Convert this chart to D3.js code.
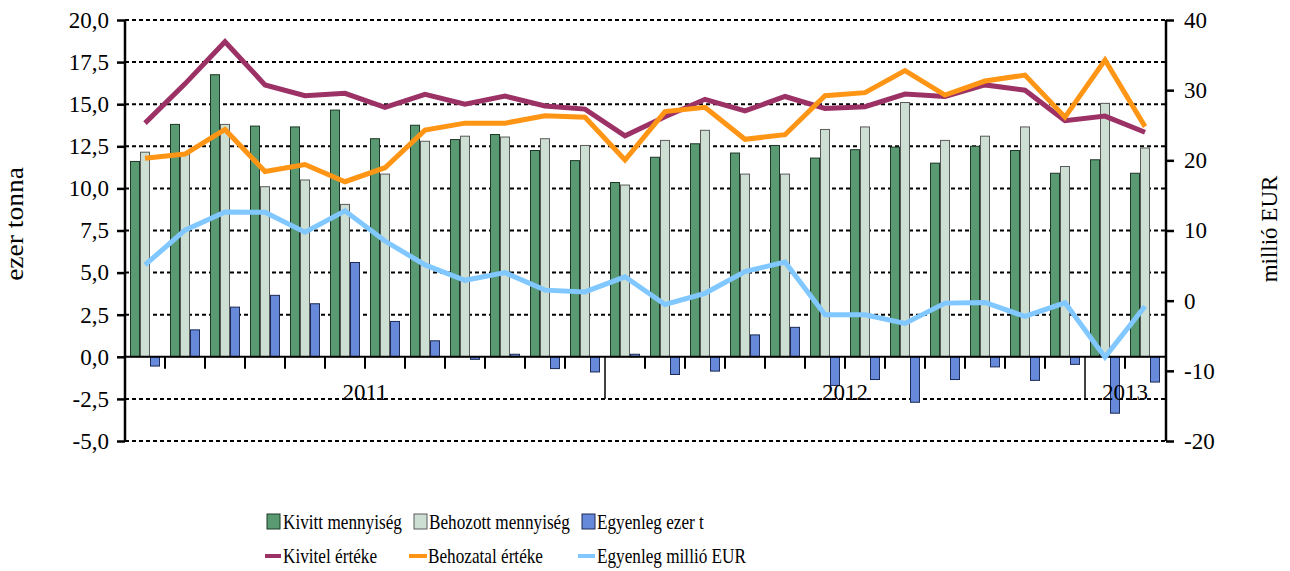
<!DOCTYPE html>
<html><head><meta charset="utf-8">
<script src="https://cdn.jsdelivr.net/npm/d3@7"></script>
<style>
html,body{margin:0;padding:0;background:#fff;}
svg text{font-family:"Liberation Serif","Times New Roman",serif !important;fill:#000;}
</style></head>
<body><svg id="c" width="1290" height="571"></svg>
<script>
const categories = ["2011.01","2011.02","2011.03","2011.04","2011.05","2011.06","2011.07","2011.08","2011.09","2011.10","2011.11","2011.12",
  "2012.01","2012.02","2012.03","2012.04","2012.05","2012.06","2012.07","2012.08","2012.09","2012.10","2012.11","2012.12",
  "2013.01","2013.02"];
const years = ["2011","2012","2013"];
const yearMonths = [12,12,2];
const kivittMennyiseg = [11.6,13.8,16.75,13.7,13.65,14.65,12.95,13.75,12.9,13.2,12.25,11.65,10.35,11.85,12.65,12.1,12.55,11.8,12.3,12.45,11.5,12.5,12.25,10.9,11.7,10.9];
const behozottMennyiseg = [12.15,12.1,13.8,10.1,10.5,9.05,10.85,12.8,13.1,13.05,12.95,12.55,10.2,12.85,13.45,10.85,10.85,13.5,13.65,15.1,12.85,13.1,13.65,11.3,15.05,12.4];
const egyenlegEzerT = [-0.55,1.6,2.95,3.65,3.15,5.6,2.1,0.95,-0.15,0.15,-0.7,-0.9,0.15,-1.05,-0.85,1.3,1.75,-1.7,-1.35,-2.7,-1.35,-0.6,-1.4,-0.45,-3.35,-1.5];
const kivitelErteke = [25.3,30.9,36.9,30.75,29.2,29.55,27.55,29.4,28.0,29.15,27.75,27.3,23.5,26.2,28.7,27.05,29.1,27.4,27.65,29.45,29.1,30.75,30.0,25.65,26.3,24.0];
const behozatalErteke = [20.3,20.9,24.4,18.4,19.4,16.95,18.95,24.3,25.3,25.3,26.35,26.15,20.05,26.95,27.55,23.0,23.65,29.2,29.65,32.8,29.3,31.3,32.15,26.15,34.3,24.8];
const egyenlegMillioEur = [5.1,10.05,12.65,12.6,9.75,12.8,8.5,5.1,2.9,4.0,1.5,1.25,3.4,-0.55,1.05,4.15,5.5,-2.0,-2.0,-3.25,-0.35,-0.25,-2.25,-0.3,-8.05,-0.8];
const leftTickValues = [-5,-2.5,0,2.5,5,7.5,10,12.5,15,17.5,20];
const leftTickLabels = ["-5,0","-2,5","0,0","2,5","5,0","7,5","10,0","12,5","15,0","17,5","20,0"];
const rightTickValues = [-20,-10,0,10,20,30,40];
const rightTickLabels = ["-20","-10","0","10","20","30","40"];
const barSeriesNames = ["Kivitt mennyiség","Behozott mennyiség","Egyenleg ezer t"];
const lineSeriesNames = ["Kivitel értéke","Behozatal értéke","Egyenleg millió EUR"];
const leftTitle = "ezer tonna";
const rightTitle = "millió EUR";

const barColors = ["#5a9a73","#cddfd2","#6689d9"];
const barStrokes = ["#1d3826","#5a5a5a","#1c2a55"];
const lineColors = ["#9b3165","#ff9515","#80c8ff"];
const FONT = '"Liberation Serif","Times New Roman",serif';

const svg = d3.select("#c");
const X0 = 125, X1 = 1165, YT = 20, YB = 441;
const x = d3.scaleBand().domain(categories).range([X0, X1]).padding(0);
const xi = d3.scaleBand().domain([0,1,2]).range([5, 35]).padding(0);
const yL = d3.scaleLinear().domain([-5,20]).range([YB, YT]);
const yR = d3.scaleLinear().domain([-20,40]).range([YB, YT]);

// gridlines
svg.append("g").selectAll("line").data(leftTickValues.filter(v=>v!==0)).join("line")
  .attr("x1", X0).attr("x2", X1).attr("y1", d=>yL(d)).attr("y2", d=>yL(d))
  .attr("stroke","#000").attr("stroke-width",2).attr("stroke-dasharray","4,3");

// bars
const barData = [kivittMennyiseg, behozottMennyiseg, egyenlegEzerT];
barData.forEach((arr, s) => {
  svg.append("g").selectAll("rect").data(arr).join("rect")
    .attr("x", (d,i)=> x(categories[i]) + xi(s) + 0.5)
    .attr("width", xi.bandwidth() - 1)
    .attr("y", d => Math.min(yL(d), yL(0)))
    .attr("height", d => Math.abs(yL(d) - yL(0)))
    .attr("fill", barColors[s]).attr("stroke", barStrokes[s]).attr("stroke-width",1);
});

// x axis at zero
const yZ = yL(0);
svg.append("line").attr("x1",X0).attr("x2",X1).attr("y1",yZ).attr("y2",yZ).attr("stroke","#000").attr("stroke-width",2);
const yearStarts = [];
let acc = 0; yearMonths.forEach(m => { yearStarts.push(acc); acc += m; });
svg.append("g").selectAll("line").data(categories.slice(1)).join("line")
  .attr("x1", d=>x(d)).attr("x2", d=>x(d))
  .attr("y1", yZ).attr("y2", (d,i)=> yearStarts.includes(i+1) ? yL(-2.5) : yZ+12)
  .attr("stroke","#000").attr("stroke-width", (d,i)=> yearStarts.includes(i+1) ? 1.5 : 2);

function label(x0, y0, s, size, sx, anchor, rot) {
  return svg.append("text")
    .attr("transform", `translate(${x0},${y0})` + (rot ? ` rotate(${rot})` : "") + ` scale(${sx},1)`)
    .attr("text-anchor", anchor || "start")
    .style("font-family", FONT).style("font-size", size + "px")
    .text(s);
}

years.forEach((yr, k) => {
  const a = x(categories[yearStarts[k]]);
  const b = x(categories[yearStarts[k] + yearMonths[k] - 1]) + x.bandwidth();
  label((a+b)/2, 400, yr, 23, 1, "middle");
});

// lines
const lineData = [kivitelErteke, behozatalErteke, egyenlegMillioEur];
const lineGen = d3.line().x((d,i)=> x(categories[i]) + x.bandwidth()/2).y(d=>yR(d));
lineData.forEach((arr, s) => {
  svg.append("path").attr("d", lineGen(arr)).attr("fill","none")
    .attr("stroke", lineColors[s]).attr("stroke-width",5).attr("stroke-linejoin","miter");
});

// left axis
const axL = d3.axisLeft(yL).tickValues(leftTickValues).tickSize(8).tickPadding(8)
  .tickFormat((d,i)=> leftTickLabels[i]);
const gL = svg.append("g").attr("transform",`translate(${X0},0)`).call(axL)
  .attr("font-family", FONT).attr("font-size", 23);
gL.select(".domain").attr("stroke-width",2.5).attr("d",`M0,${YT}V${YB}`);
gL.selectAll(".tick line").attr("stroke-width",2.5);
gL.selectAll("text").style("font-family",FONT).style("font-size","23px").attr("fill","#000");

// right axis
const axR = d3.axisRight(yR).tickValues(rightTickValues).tickSize(8).tickPadding(10)
  .tickFormat((d,i)=> rightTickLabels[i]);
const gR = svg.append("g").attr("transform",`translate(${X1+1},0)`).call(axR)
  .attr("font-family", FONT).attr("font-size", 23);
gR.select(".domain").attr("stroke-width",2.5).attr("d",`M0,${YT}V${YB}`);
gR.selectAll(".tick line").attr("stroke-width",2.5);
gR.selectAll("text").style("font-family",FONT).style("font-size","23px").attr("fill","#000");

// axis titles
label(23, 224, leftTitle, 25, 1.1, "middle", -90);
label(1277, 229, rightTitle, 23, 1, "middle", -90);

// legend
const legBarX = [267, 414, 582];
const legBarTextX = [283, 429, 597];
barSeriesNames.forEach((n, s) => {
  svg.append("rect").attr("x",legBarX[s]).attr("y",514).attr("width",13).attr("height",15)
    .attr("fill",barColors[s]).attr("stroke",barStrokes[s]).attr("stroke-width",1);
  label(legBarTextX[s], 529, n, 20, 0.86);
});
const legLineX = [[265,281],[409,427],[578,595]];
const legLineTextX = [283, 428, 597];
lineSeriesNames.forEach((n, s) => {
  svg.append("line").attr("x1",legLineX[s][0]).attr("x2",legLineX[s][1]).attr("y1",556).attr("y2",556)
    .attr("stroke",lineColors[s]).attr("stroke-width",4);
  label(legLineTextX[s], 563, n, 20, 0.86);
});
</script></body></html>
